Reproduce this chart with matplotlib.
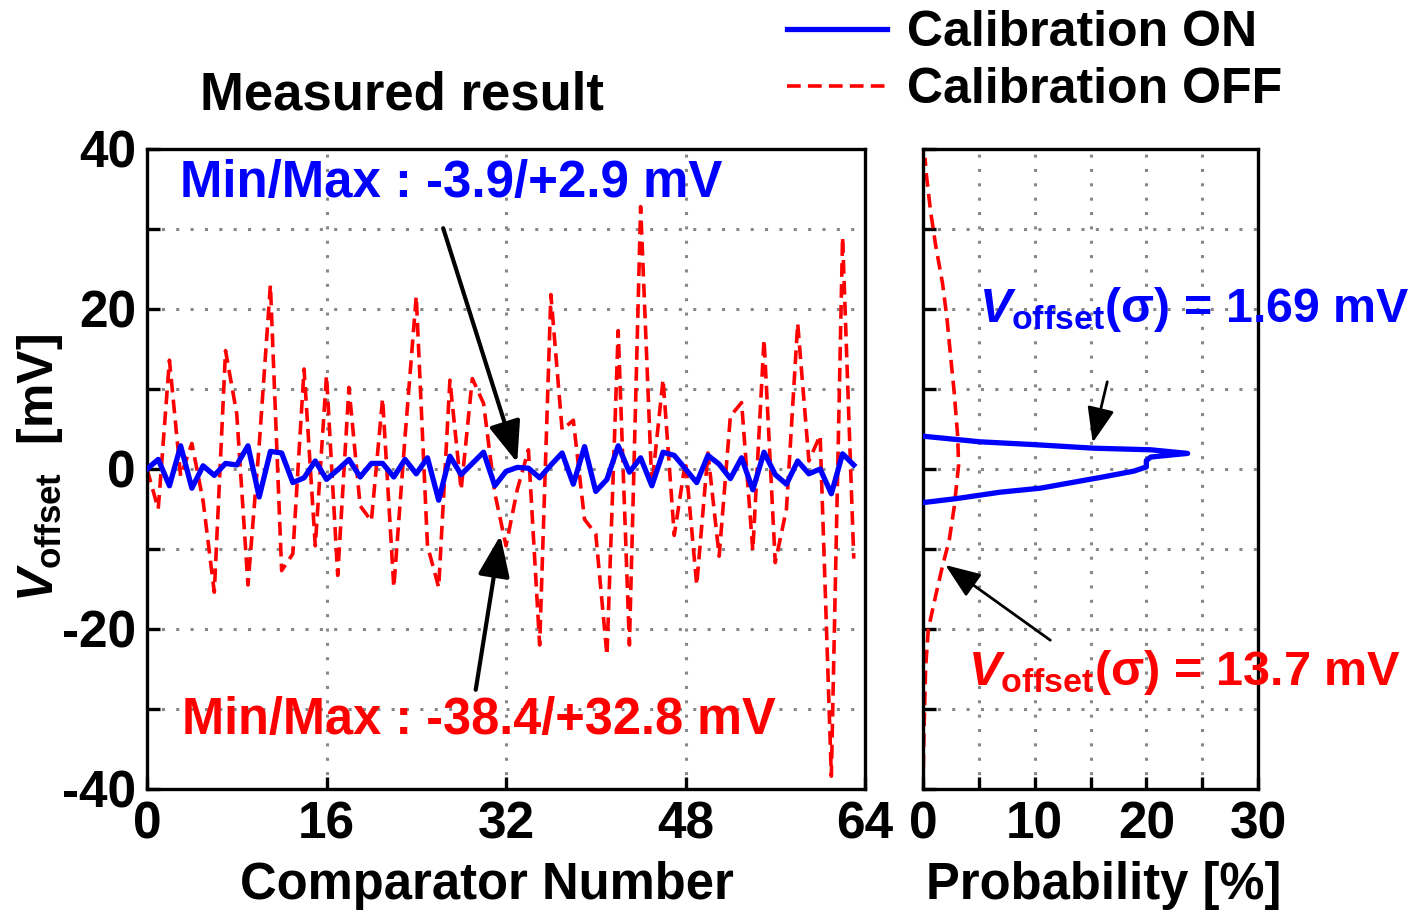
import numpy as np
import matplotlib
matplotlib.use("Agg")
import matplotlib.pyplot as plt

plt.rcParams['font.family'] = ['Liberation Sans', 'DejaVu Sans']
plt.rcParams['font.weight'] = 'bold'
plt.rcParams['axes.labelweight'] = 'bold'
plt.rcParams['mathtext.fontset'] = 'custom'
plt.rcParams['mathtext.rm'] = 'Liberation Sans:bold'
plt.rcParams['mathtext.it'] = 'Liberation Sans:bold:italic'
plt.rcParams['mathtext.bf'] = 'Liberation Sans:bold'

# Offset per comparator (mV)
comparator = np.arange(64)
cal_on = [0, 1.2, -2.1, 2.9, -2.4, 0.4, -0.8, 0.7, 0.5, 2.9, -3.5, 2.2, 2.0, -1.7, -1.1, 1.0,
          -1.3, -0.1, 1.2, -1.0, 0.7, 0.7, -1.0, 1.2, -0.6, 1.4, -3.9, 1.6, -0.7, 0.7, 2.1, -2.1,
          -0.3, 0.2, 0.1, -1.1, 0.5, 2.0, -1.9, 2.8, -2.8, -1.3, 2.9, -0.4, 1.4, -2.1, 2.1, 1.7,
          0.0, -1.7, 1.7, 0.6, -1.2, 1.4, -2.6, 2.1, -0.7, -1.9, 1.0, -0.6, 0.0, -3.1, 1.9, 0.5]
cal_off = [0, -5.0, 13.6, -0.9, 3.2, -4.0, -15.4, 14.8, 6.9, -14.5, 3.0, 23.0, -12.7, -10.6, 12.5, -9.6,
           11.7, -13.3, 10.2, -4.6, -6.5, 8.8, -14.8, 4.0, 21.6, -9.6, -14.8, 11.1, -2.6, 11.3, 8.2, -3.0,
           -9.6, -2.6, 2.4, -22.0, 21.8, 4.9, 6.1, -6.3, -8.1, -23.3, 17.3, -22.0, 32.8, -2.1, 11.2, -8.3,
           1.0, -14.5, 2.0, -10.9, 6.6, 8.3, -10.2, 16.2, -11.7, -5.0, 18.2, 1.0, 4.2, -38.4, 29.0, -11.2]

# Distributions (probability %, offset mV)
on_prob = [0, 5.1, 9.9, 15.3, 20.4, 23.7, 20.4, 20.0, 20.0, 18.9, 15.9, 12.9, 10.5, 6.9, 3.0, 0]
on_volt = [4.1, 3.4, 3.05, 2.6, 2.4, 1.95, 1.5, 1.05, 0.26, -0.26, -1.05, -1.8, -2.4, -2.9, -3.7, -4.2]
off_prob = [0, 0.09, 0.24, 0.48, 1.14, 1.75, 2.35, 2.8, 3.19, 3.1, 2.8, 2.5, 2.14, 1.75, 1.14, 0.69, 0.3, 0.18]
off_volt = [-40, -32.6, -24.7, -20, -15.8, -12.1, -8.9, -4.7, 0.5, 4.2, 9.5, 13.7, 18.9, 23.2, 27.9, 32.1, 36.8, 38.9]

W, H = 1418, 910
fig = plt.figure(figsize=(W / 100, H / 100), dpi=100)

ax = fig.add_axes([147 / W, 1 - 789 / H, 718 / W, 640 / H])
ax2 = fig.add_axes([923 / W, 1 - 789 / H, 335 / W, 640 / H])

grid_kw = dict(color='#888888', linestyle=(0, (1, 3.7)), linewidth=2.2)
blue_kw = dict(color='#0000ff', lw=3.8, zorder=3)
red_kw = dict(color='#ff0000', lw=2.6, dashes=(3.8, 2), zorder=2)

l_on, = ax.plot(comparator, cal_on, **blue_kw)
l_off, = ax.plot(comparator, cal_off, **red_kw)
ax.set_xlim(0, 64)
ax.set_ylim(-40, 40)
ax.set_xticks([0, 16, 32, 48, 64])
ax.set_yticks(range(-40, 41, 10))
ax.set_yticklabels(['-40', '', '-20', '', '0', '', '20', '', '40'])
ax.grid(True, **grid_kw)

ax2.plot(off_prob, off_volt, **red_kw)
ax2.plot(on_prob, on_volt, **blue_kw)
ax2.set_xlim(0, 30)
ax2.set_ylim(-40, 40)
ax2.set_xticks(range(0, 31, 5))
ax2.set_xticklabels(['0', '', '10', '', '20', '', '30'])
ax2.set_yticks(range(-40, 41, 10))
ax2.set_yticklabels([])
ax2.grid(True, **grid_kw)

for a in (ax, ax2):
    for s in a.spines.values():
        s.set_linewidth(2.4)
    a.tick_params(direction='in', length=9, width=2.4, labelsize=37, pad=8)

# axis titles placed like the original (not centred on the axes)
fig.text(487 / W, 1 - 885 / H, 'Comparator Number', fontsize=36.5, ha='center', va='center')
fig.text(1104 / W, 1 - 885 / H, 'Probability [%]', fontsize=36.5, ha='center', va='center')
fig.text(40 / W, 1 - 468 / H, r'$V_{\mathrm{offset}}$  [mV]', fontsize=36, rotation=90,
         ha='center', va='center')
fig.text(402 / W, 1 - 95 / H, 'Measured result', fontsize=38, ha='center', va='center')

ax.text(2.9, 35.7, 'Min/Max : -3.9/+2.9 mV', color='#0000ff', fontsize=36.7, va='center')
ax.text(3.1, -31.4, 'Min/Max : -38.4/+32.8 mV', color='#ff0000', fontsize=36.4, va='center')

arrow = dict(arrowstyle='-|>,head_length=0.9,head_width=0.35', color='k', lw=3, mutation_scale=28,
             shrinkA=0, shrinkB=0)
ax.annotate('', xy=(33.0, 0.8), xytext=(26.4, 30.1), arrowprops=arrow)
ax.annotate('', xy=(31.5, -8.3), xytext=(29.3, -27.6), arrowprops=arrow)

arrow2 = dict(arrowstyle='-|>,head_length=0.9,head_width=0.35', color='k', lw=2, mutation_scale=24,
              shrinkA=0, shrinkB=0)
ax2.annotate('', xy=(15.2, 3.3), xytext=(16.5, 10.9), arrowprops=arrow2)
ax2.annotate('', xy=(2.0, -12.0), xytext=(11.4, -21.4), arrowprops=arrow2)

ax2.text(5.0, 19.9, r'$V_{\mathrm{offset}}$(σ) = 1.69 mV', color='#0000ff', fontsize=34.8,
         va='center', clip_on=False)
ax2.text(4.0, -25.4, r'$V_{\mathrm{offset}}$(σ) = 13.7 mV', color='#ff0000', fontsize=35,
         va='center', clip_on=False)

fig.legend([l_on, l_off], ['Calibration ON', 'Calibration OFF'], loc='upper left',
           bbox_to_anchor=(787 / W, 1 - 10 / H), frameon=False, fontsize=36,
           handlelength=2.0, handletextpad=0.4, labelspacing=0.22, borderpad=0, borderaxespad=0)

fig.savefig('out.png', dpi=100)
